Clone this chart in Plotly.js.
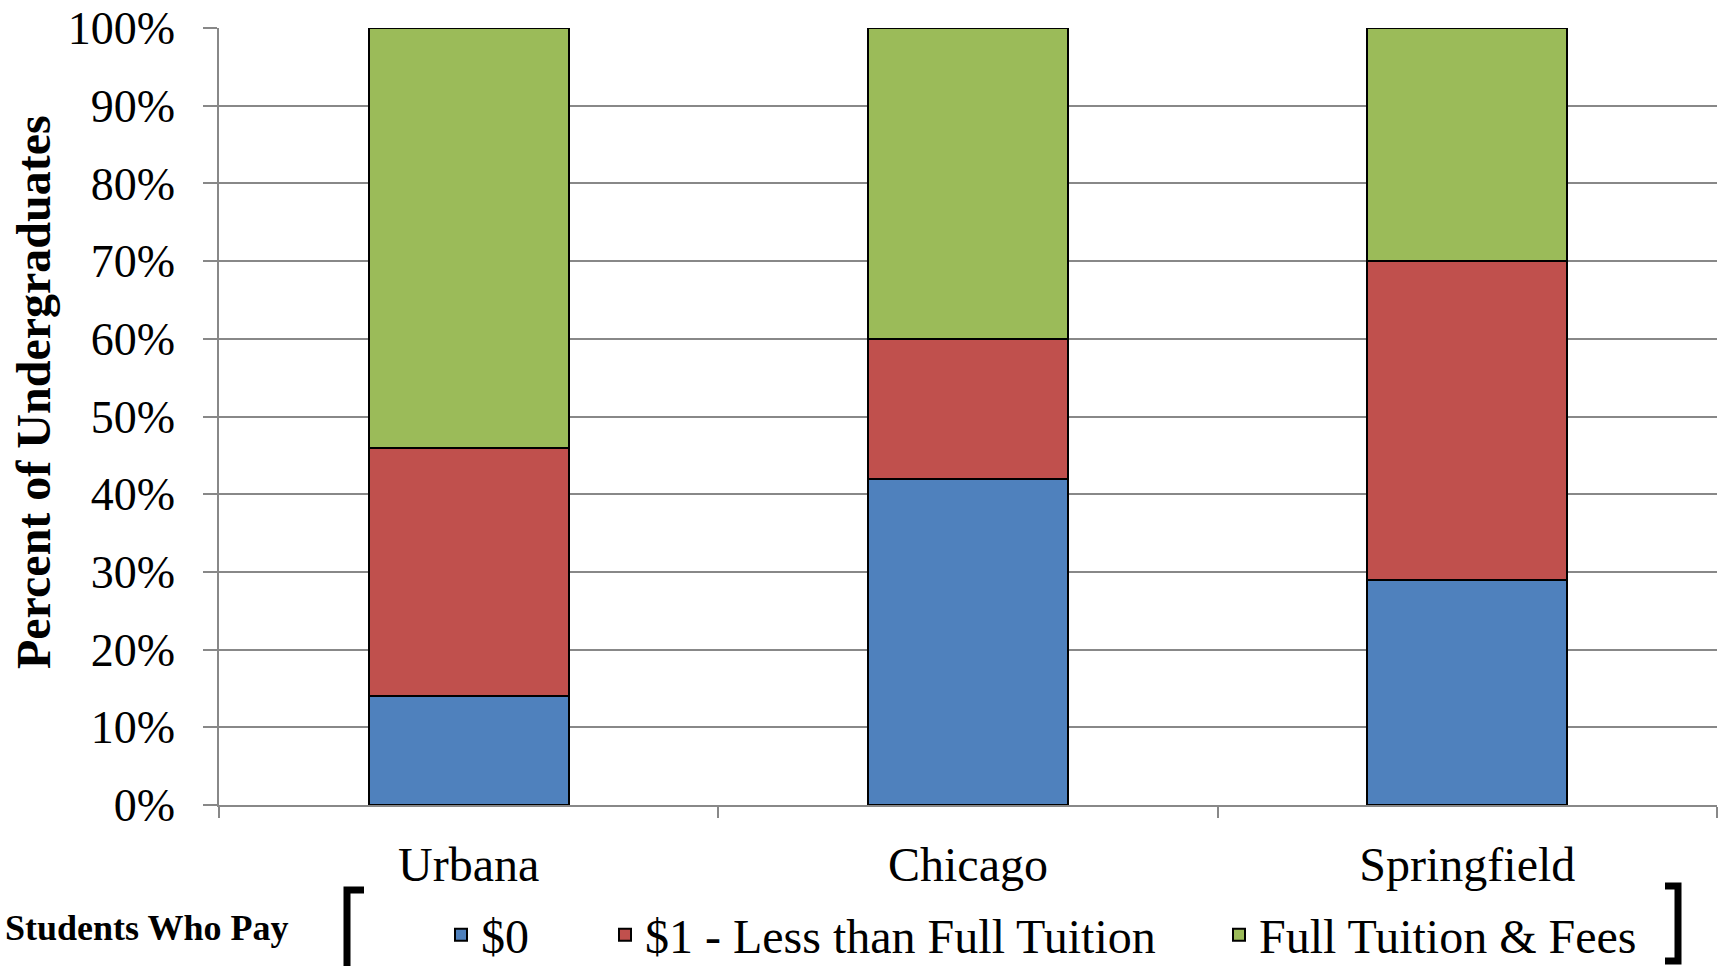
<!DOCTYPE html>
<html>
<head>
<meta charset="utf-8">
<script src="https://cdn.plot.ly/plotly-3.0.1.min.js"></script>
<style>html,body{margin:0;padding:0;background:#fff;}#chart{width:1723px;height:966px;}</style>
</head>
<body>
<div id="chart"></div>
<script>
// ---- data ----
const campuses = ["Urbana", "Chicago", "Springfield"];
const payZero = [0.14, 0.42, 0.29];
const payPartial = [0.32, 0.18, 0.41];
const payFull = [0.54, 0.40, 0.30];
const seriesNames = ["$0", "$1 - Less than Full Tuition", "Full Tuition & Fees"];
const yTitle = "Percent of Undergraduates";
const legendTitle = "Students Who Pay";

// ---- layout helpers ----
const W = 1723, H = 966;
const M = {l: 219, r: 6, t: 28, b: 161, autoexpand: false};
const PW = W - M.l - M.r, PH = H - M.t - M.b;
const px = x => (x - M.l) / PW;
const py = y => (H - M.b - y) / PH;

const FONT = '"Liberation Serif", "Times New Roman", Times, serif';
const colors = ["#4F81BD", "#C0504D", "#9BBB59"];
const values = [payZero, payPartial, payFull];
const legendIds = ["legend", "legend2", "legend3"];

const traces = values.map((v, i) => ({
  type: "bar",
  x: campuses,
  y: v,
  name: seriesNames[i],
  legend: legendIds[i],
  marker: {color: colors[i], line: {color: "#000", width: 2}},
  hoverinfo: "x+y+name"
}));

function legendAt(xpx) {
  return {
    orientation: "h", x: px(xpx), xanchor: "left", y: py(935), yanchor: "middle",
    font: {family: FONT, size: 48, color: "#000"}, bgcolor: "rgba(0,0,0,0)", borderwidth: 0
  };
}

const lw = 7;
const layout = {
  width: W, height: H,
  margin: M,
  paper_bgcolor: "#fff", plot_bgcolor: "#fff",
  barmode: "stack",
  bargap: 0.6,
  font: {family: FONT, color: "#000"},
  xaxis: {
    type: "category",
    range: [-0.5, 2.5],
    showline: true, linecolor: "#888", linewidth: 1.5,
    ticks: "outside", tickson: "boundaries", ticklen: 11, tickcolor: "#888", tickwidth: 1.5,
    tickfont: {family: FONT, size: 48, color: "#000"},
    ticklabelstandoff: 17,
    showgrid: false, zeroline: false, fixedrange: true
  },
  yaxis: {
    range: [0, 1], dtick: 0.1, tickformat: ".0%",
    showline: true, linecolor: "#888", linewidth: 1.5,
    ticks: "outside", ticklen: 14, tickcolor: "#888", tickwidth: 1.5,
    tickfont: {family: FONT, size: 46, color: "#000"},
    ticklabelstandoff: 19,
    showgrid: true, gridcolor: "#888", gridwidth: 1.5,
    zeroline: false, fixedrange: true
  },
  showlegend: true,
  legend: legendAt(441),
  legend2: legendAt(605),
  legend3: legendAt(1219),
  annotations: [
    {text: "<b>" + yTitle + "</b>", xref: "paper", yref: "paper", x: px(33), y: py(392),
     xanchor: "center", yanchor: "middle", textangle: -90, showarrow: false,
     font: {family: FONT, size: 48, color: "#000"}},
    {text: "<b>" + legendTitle + "</b>", xref: "paper", yref: "paper", x: px(290), y: py(928),
     xanchor: "right", yanchor: "middle", showarrow: false,
     font: {family: FONT, size: 36, color: "#000"}}
  ],
  shapes: [
    {type: "path", xref: "paper", yref: "paper", layer: "above",
     path: `M ${px(364)} ${py(890)} L ${px(347)} ${py(890)} L ${px(347)} ${py(975)}`,
     line: {color: "#000", width: lw}},
    {type: "path", xref: "paper", yref: "paper", layer: "above",
     path: `M ${px(1665)} ${py(886)} L ${px(1678)} ${py(886)} L ${px(1678)} ${py(961)} L ${px(1665)} ${py(961)}`,
     line: {color: "#000", width: lw}}
  ]
};

Plotly.newPlot("chart", traces, layout, {displayModeBar: false, staticPlot: false});
</script>
</body>
</html>
